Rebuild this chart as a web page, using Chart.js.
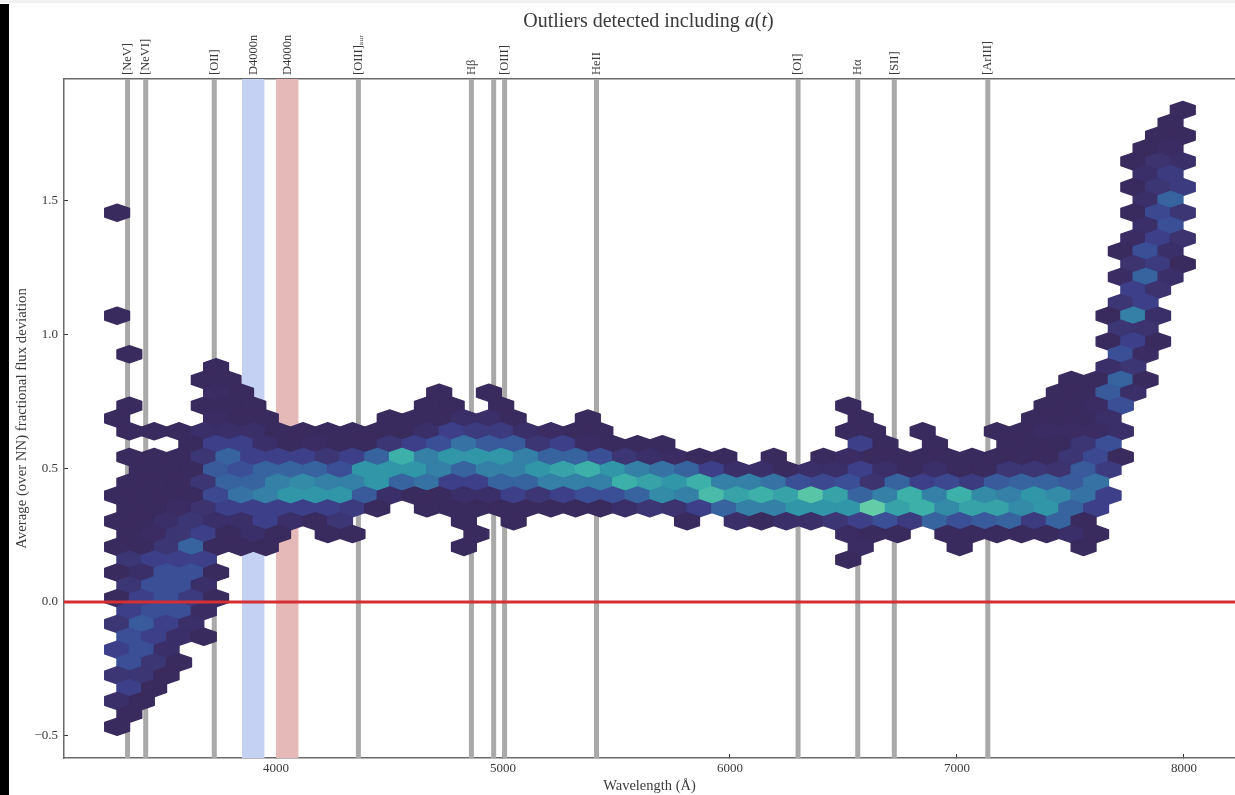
<!DOCTYPE html>
<html>
<head>
<meta charset="utf-8">
<title>Outliers detected including a(t)</title>
<script src="https://cdn.jsdelivr.net/npm/chart.js@4/dist/chart.umd.min.js"></script>
<style>
    html, body { margin: 0; padding: 0; background: #fff; }
    #chart { position: absolute; left: 0; top: 0; }
    #title { position: absolute; left: 0; width: 1297px; top: 9px; text-align: center; font: 20px "Liberation Serif", serif; color: #3a3a3a; }
    #edgeLeft { position: absolute; left: 0; top: 4px; width: 9px; height: 791px; background: #000; }
    #edgeTop { position: absolute; left: 0; top: 0; width: 1235px; height: 3px; background: #f1f1f1; }
</style>
</head>
<body>
<canvas id="chart" width="1235" height="795"></canvas>
<div id="title">Outliers detected including <i>a</i>(<i>t</i>)</div>
<div id="edgeTop"></div>
<div id="edgeLeft"></div>
<script>
const lineWavelengths = [3346, 3426, 3728, 3900, 4050, 4363, 4861, 4959, 5007, 5412, 6300, 6563, 6724, 7136];
const lineLabels = ['[NeV]', '[NeVI]', '[OII]', 'D4000n', 'D4000n', '[OIII]ₐᵤᵣ', 'Hβ', '', '[OIII]', 'HeII', '[OI]', 'Hα', '[SII]', '[ArIII]'];
const greyLines = [3346, 3426, 3728, 4363, 4861, 4959, 5007, 5412, 6300, 6563, 6724, 7136];
const blueBand = [3850, 3950];
const redBand = [4000, 4100];

const xTicks = [4000, 5000, 6000, 7000, 8000];
const yTicks = [-0.5, 0, 0.5, 1, 1.5];
const yTickLabels = ['−0.5', '0.0', '0.5', '1.0', '1.5'];

// hex bin centres
const binWavelength = [3300, 3354, 3409, 3463, 3518, 3573, 3627, 3682, 3736, 3791, 3846, 3900, 3955, 4009, 4064, 4119,
    4173, 4228, 4282, 4337, 4392, 4446, 4501, 4555, 4610, 4665, 4719, 4774, 4828, 4883, 4938, 4992, 5047, 5101, 5156,
    5211, 5265, 5320, 5374, 5429, 5484, 5538, 5593, 5647, 5702, 5757, 5811, 5866, 5920, 5975, 6030, 6084, 6139, 6193,
    6248, 6303, 6357, 6412, 6466, 6521, 6576, 6630, 6685, 6739, 6794, 6849, 6903, 6958, 7012, 7067, 7122, 7176, 7231,
    7285, 7340, 7395, 7449, 7504, 7558, 7613, 7668, 7722, 7777, 7831, 7886, 7941, 7995];
const binFlux = [1.839, 1.791, 1.743, 1.695, 1.647, 1.599, 1.551, 1.503, 1.455, 1.407, 1.359, 1.311, 1.263, 1.215, 1.167,
    1.118, 1.070, 1.022, 0.974, 0.926, 0.878, 0.830, 0.782, 0.734, 0.686, 0.638, 0.590, 0.542, 0.494, 0.446, 0.398,
    0.350, 0.302, 0.254, 0.206, 0.158, 0.110, 0.062, 0.014, -0.034, -0.082, -0.130, -0.178, -0.226, -0.274, -0.322,
    -0.370, -0.418, -0.466];

// one list per binFlux row: wavelength bin, density, wavelength bin, density...
const hexCounts = [
    [86,0],
    [85,0],
    [84,0, 86,0],
    [83,0, 85,.5],
    [82,0, 84,1.5, 86,1],
    [83,1, 85,2.5],
    [82,0, 84,2, 86,2.5],
    [83,1, 85,5],
    [0,0, 82,0, 84,3.5, 86,2],
    [83,1, 85,4],
    [82,.5, 84,3, 86,1.5],
    [81,0, 83,4, 85,1],
    [82,1.5, 84,2.5, 86,0],
    [81,.5, 83,5, 85,1],
    [82,3, 84,1.5],
    [81,2, 83,3],
    [0,0, 80,0, 82,6, 84,1],
    [81,2, 83,1.5],
    [80,0, 82,3, 84,0],
    [1,0, 81,4, 83,.5],
    [8,0, 80,1, 82,2],
    [7,0, 9,0, 77,0, 79,0, 81,5, 83,0],
    [8,.5, 10,0, 26,0, 30,0, 76,0, 78,0, 80,4.5, 82,1],
    [1,0, 7,0, 9,0, 11,0, 25,0, 27,0, 31,0, 59,0, 75,0, 77,0, 79,.5, 81,4],
    [0,0, 8,.5, 10,0, 12,0, 22,0, 24,0, 26,0, 28,1, 30,1, 32,0, 38,0, 60,0, 74,0, 76,0, 78,0, 80,1],
    [1,0, 3,0, 5,0, 7,1, 9,1, 11,1, 13,0, 15,0, 17,0, 19,0, 21,0, 23,0, 25,1, 27,3, 29,2.5, 31,2.5, 33,1, 35,.5, 37,0, 39,0, 59,0, 61,0, 65,0, 71,0, 73,0, 75,.5, 77,.5, 79,.5, 81,1],
    [6,0, 8,3, 10,3, 12,1, 14,0, 16,.5, 18,0, 20,0, 22,2, 24,3, 26,4, 28,5.5, 30,4.5, 32,4.5, 34,2, 36,3, 38,.5, 40,0, 42,0, 44,0, 60,3, 62,0, 66,0, 72,0, 74,0, 76,0, 78,2, 80,4],
    [1,0, 3,0, 5,0, 7,2, 9,5, 11,3, 13,3, 15,3, 17,2, 19,3, 21,5, 23,8, 25,6, 27,7, 29,7, 31,7, 33,6, 35,5, 37,5, 39,4, 41,2, 43,1, 45,.5, 47,0, 49,0, 53,0, 57,0, 59,.5, 61,0, 63,0, 65,0, 67,0, 69,0, 71,0, 73,0, 75,0, 77,2, 79,3.5, 81,0],
    [2,0, 4,0, 6,0, 8,4.5, 10,4, 12,5, 14,5, 16,5, 18,4, 20,7, 22,7, 24,7, 26,6, 28,5, 30,6, 32,6, 34,7, 36,7.5, 38,8, 40,7, 42,6, 44,5.5, 46,5, 48,3, 50,1, 52,1, 54,0, 56,1, 58,1, 60,3, 62,1, 64,0, 66,1, 68,0, 70,0, 72,2, 74,2, 76,1.5, 78,4.5, 80,2.5],
    [1,0, 3,0, 5,0, 7,2, 9,5, 11,5, 13,6, 15,6.5, 17,6, 19,6, 21,7, 23,5, 25,5.5, 27,3, 29,3, 31,5, 33,5, 35,6, 37,6, 39,6, 41,8, 43,7.5, 45,7, 47,8, 49,6, 51,6, 53,5.5, 55,4, 57,3.5, 59,4, 61,1.5, 63,5, 65,3, 67,3.5, 69,2.5, 71,4.5, 73,5, 75,5, 77,4.5, 79,5.5],
    [0,0, 2,0, 4,0, 6,0, 8,3.5, 10,5.5, 12,6, 14,7, 16,7, 18,7, 20,4.5, 22,1, 24,0, 26,0, 28,1, 30,1, 32,3, 34,2, 36,3, 38,4, 40,4, 42,5, 44,6.5, 46,6, 48,8.5, 50,7.5, 52,8, 54,7.5, 56,9, 58,7.5, 60,5, 62,6, 64,8, 66,6, 68,8, 70,6.5, 72,6, 74,7, 76,6.5, 78,5.5, 80,3],
    [1,0, 3,0, 5,.5, 7,1.5, 9,3, 11,3, 13,3, 15,3, 17,3, 19,2.5, 21,0, 25,0, 27,0, 29,0, 31,0, 33,0, 35,0, 37,0, 39,0, 41,1, 43,2, 45,1.5, 47,3, 49,5, 51,6, 53,6, 55,7, 57,7, 59,7, 61,9.5, 63,7.5, 65,8, 67,6.5, 69,7.5, 71,7.5, 73,6.5, 75,7, 77,5, 79,3],
    [0,0, 2,0, 4,1, 6,2, 8,1, 10,1, 12,3, 14,1, 16,0, 18,2, 28,0, 32,0, 46,0, 50,1, 52,0, 54,1, 56,1, 58,2, 60,3, 62,4, 64,2.5, 66,5, 68,4, 70,4.5, 72,5, 74,2.5, 76,5, 78,0],
    [1,0, 3,.5, 5,2, 7,3, 9,0, 11,1, 13,0, 17,0, 19,0, 29,0, 59,.5, 61,0, 63,0, 67,0, 69,0, 71,0, 73,0, 75,0, 77,1, 79,0],
    [0,0, 2,0, 4,2, 6,5, 8,0, 10,0, 12,0, 28,0, 60,.5, 68,0, 78,0],
    [1,2, 3,3, 5,3, 7,3, 59,0],
    [0,0, 2,1, 4,4, 6,4, 8,0],
    [1,2, 3,4, 5,4, 7,1],
    [0,0, 2,3, 4,4, 6,2.5, 8,0],
    [1,3, 3,4, 5,4, 7,.5],
    [0,2, 2,4.5, 4,3, 6,1],
    [1,4, 3,3, 5,1, 7,0],
    [0,3, 2,4, 4,1],
    [1,4, 3,2, 5,0],
    [0,2, 2,2, 4,0],
    [1,3, 3,0],
    [0,1, 2,0],
    [1,0],
    [0,0]
];

const xMin = 3066, xMax = 8225;
const yMin = -0.583, yMax = 1.955;

const textColor = '#3a3a3a';
const axisColor = '#6a6a6a';
const serif = '"Liberation Serif", serif';

// colormap stops, index = density
const hexColors = ['#3a2b5e', '#3b2f69', '#3c3674', '#3d4089', '#3b4f97', '#37649f', '#3480a6', '#3196a8', '#3cb0a9', '#58c6a6', '#6fd3a8'];

function hexToRgb(c) {
    return [1, 3, 5].map(i => parseInt(c.substr(i, 2), 16));
}

function colorFor(v) {
    const lo = Math.floor(v), hi = Math.min(lo + 1, hexColors.length - 1), t = v - lo;
    const a = hexToRgb(hexColors[lo]), b = hexToRgb(hexColors[hi]);
    return 'rgb(' + a.map((n, i) => Math.round(n + (b[i] - n) * t)).join(',') + ')';
}

const hexPoints = [];
hexCounts.forEach((row, i) => {
    for (let k = 0; k < row.length; k += 2) {
        hexPoints.push({ x: binWavelength[row[k]], y: binFlux[i], v: row[k + 1] });
    }
});

// the points of the hex dataset are placed by the scales, this only gives them their shape
const hexShapes = {
    id: 'hexShapes',
    afterDatasetDraw(chart, args) {
        const ds = chart.data.datasets[args.index];
        if (!ds.hexbin) return;
        const g = chart.ctx;
        const hw = 12.39, r = 8.57;
        g.save();
        g.lineWidth = 1.4;
        g.lineJoin = 'round';
        args.meta.data.forEach((pt, i) => {
            g.beginPath();
            g.moveTo(pt.x, pt.y - r);
            g.lineTo(pt.x + hw, pt.y - r / 2);
            g.lineTo(pt.x + hw, pt.y + r / 2);
            g.lineTo(pt.x, pt.y + r);
            g.lineTo(pt.x - hw, pt.y + r / 2);
            g.lineTo(pt.x - hw, pt.y - r / 2);
            g.closePath();
            g.fillStyle = g.strokeStyle = colorFor(ds.data[i].v);
            g.fill();
            g.stroke();
        });
        g.restore();
    }
};

const datasets = [];

datasets.push({
    type: 'line',
    data: [{ x: xMin, y: 0 }, { x: xMax, y: 0 }],
    borderColor: '#d62f33',
    borderWidth: 3,
    pointRadius: 0,
    order: 0
});

datasets.push({
    type: 'scatter',
    hexbin: true,
    data: hexPoints,
    pointRadius: 0,
    order: 1
});

greyLines.forEach(w => {
    datasets.push({
        type: 'line',
        data: [{ x: w, y: yMin }, { x: w, y: yMax }],
        borderColor: '#a9a9a9',
        borderWidth: 5,
        pointRadius: 0,
        order: 2
    });
});

[[blueBand, '#c4d1f2'], [redBand, '#e6b9b9']].forEach(([band, color]) => {
    datasets.push({
        type: 'line',
        data: band.map(w => ({ x: w, y: yMax })),
        fill: 'start',
        backgroundColor: color,
        borderWidth: 0,
        pointRadius: 0,
        order: 3
    });
});

const tickFont = { family: serif, size: 13 };
const noSidePadding = s => { s.paddingLeft = 0; s.paddingRight = 0; s.paddingTop = 0; s.paddingBottom = 0; };

new Chart(document.getElementById('chart').getContext('2d'), {
    type: 'scatter',
    data: { datasets: datasets },
    plugins: [hexShapes],
    options: {
        responsive: false,
        animation: false,
        events: [],
        plugins: { legend: { display: false }, tooltip: { enabled: false } },
        layout: { padding: 0 },
        scales: {
            x: {
                type: 'linear',
                position: 'bottom',
                min: xMin,
                max: xMax,
                afterBuildTicks: s => { s.ticks = xTicks.map(v => ({ value: v })); },
                afterFit: s => { s.height = 37; noSidePadding(s); },
                border: { color: axisColor, width: 1.5 },
                grid: { drawOnChartArea: false, tickLength: -4, tickColor: '#333' },
                ticks: { font: tickFont, color: textColor, padding: 7, maxRotation: 0, callback: v => String(v) },
                title: { display: true, text: 'Wavelength (Å)', font: { family: serif, size: 14.5 }, color: textColor, padding: { top: 0, bottom: 0 } }
            },
            xTop: {
                type: 'linear',
                position: 'top',
                min: xMin,
                max: xMax,
                afterBuildTicks: s => { s.ticks = lineWavelengths.map(v => ({ value: v })); },
                afterFit: s => { s.height = 79; noSidePadding(s); },
                border: { color: axisColor, width: 1.5 },
                grid: { drawOnChartArea: false, tickLength: -4, tickColor: '#333' },
                ticks: {
                    font: { family: serif, size: 12.5 },
                    color: textColor,
                    padding: 8,
                    labelOffset: 15,
                    autoSkip: false,
                    minRotation: 90,
                    maxRotation: 90,
                    callback: (v, i) => lineLabels[i]
                }
            },
            y: {
                type: 'linear',
                position: 'left',
                min: yMin,
                max: yMax,
                afterBuildTicks: s => { s.ticks = yTicks.map(v => ({ value: v })); },
                afterFit: s => { s.width = 64; noSidePadding(s); },
                border: { color: axisColor, width: 1.5 },
                grid: { drawOnChartArea: false, tickLength: -4, tickColor: '#333' },
                ticks: { font: tickFont, color: textColor, padding: 10, callback: (v, i) => yTickLabels[i] },
                title: { display: true, text: 'Average (over NN) fractional flux deviation', font: { family: serif, size: 14.8 }, color: textColor, padding: { top: 13, bottom: 0 } }
            }
        }
    }
});
</script>
</body>
</html>
